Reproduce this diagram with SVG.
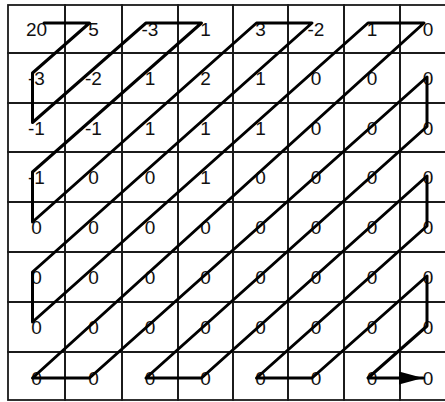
<svg xmlns="http://www.w3.org/2000/svg" width="445" height="402" viewBox="0 0 445 402">
<style>
.c rect{fill:none;stroke:#1a1a1a;stroke-width:1.8}
.c text{font-family:"Liberation Sans",Arial,sans-serif;font-size:19px;fill:#111;text-anchor:middle}
.zz{fill:none;stroke:#000;stroke-width:3;stroke-linejoin:round;stroke-linecap:round}
</style>
<defs>
<marker id="ah" markerUnits="userSpaceOnUse" markerWidth="24" markerHeight="13" viewBox="0 0 24 13" refX="24" refY="6.5" orient="auto">
<path d="M0,0 L24,6.5 L0,13 z" fill="#000"/>
</marker>
</defs>
<rect x="0" y="0" width="445" height="402" fill="#fff"/>
<g id="cells" class="c">
<g id="r0c0"><rect x="8" y="5" width="57" height="48"/><text x="36.5" y="36">20</text></g>
<g id="r0c1"><rect x="65" y="5" width="57" height="48"/><text x="93.5" y="36">5</text></g>
<g id="r0c2"><rect x="122" y="5" width="56" height="48"/><text x="150" y="36">-3</text></g>
<g id="r0c3"><rect x="178" y="5" width="55" height="48"/><text x="205.5" y="36">1</text></g>
<g id="r0c4"><rect x="233" y="5" width="55" height="48"/><text x="260.5" y="36">3</text></g>
<g id="r0c5"><rect x="288" y="5" width="56" height="48"/><text x="316" y="36">-2</text></g>
<g id="r0c6"><rect x="344" y="5" width="56" height="48"/><text x="372" y="36">1</text></g>
<g id="r0c7"><rect x="400" y="5" width="56" height="48"/><text x="428" y="36">0</text></g>

<g id="r1c0"><rect x="8" y="53" width="57" height="50"/><text x="36.5" y="85">-3</text></g>
<g id="r1c1"><rect x="65" y="53" width="57" height="50"/><text x="93.5" y="85">-2</text></g>
<g id="r1c2"><rect x="122" y="53" width="56" height="50"/><text x="150" y="85">1</text></g>
<g id="r1c3"><rect x="178" y="53" width="55" height="50"/><text x="205.5" y="85">2</text></g>
<g id="r1c4"><rect x="233" y="53" width="55" height="50"/><text x="260.5" y="85">1</text></g>
<g id="r1c5"><rect x="288" y="53" width="56" height="50"/><text x="316" y="85">0</text></g>
<g id="r1c6"><rect x="344" y="53" width="56" height="50"/><text x="372" y="85">0</text></g>
<g id="r1c7"><rect x="400" y="53" width="56" height="50"/><text x="428" y="85">0</text></g>

<g id="r2c0"><rect x="8" y="103" width="57" height="49"/><text x="36.5" y="134.5">-1</text></g>
<g id="r2c1"><rect x="65" y="103" width="57" height="49"/><text x="93.5" y="134.5">-1</text></g>
<g id="r2c2"><rect x="122" y="103" width="56" height="49"/><text x="150" y="134.5">1</text></g>
<g id="r2c3"><rect x="178" y="103" width="55" height="49"/><text x="205.5" y="134.5">1</text></g>
<g id="r2c4"><rect x="233" y="103" width="55" height="49"/><text x="260.5" y="134.5">1</text></g>
<g id="r2c5"><rect x="288" y="103" width="56" height="49"/><text x="316" y="134.5">0</text></g>
<g id="r2c6"><rect x="344" y="103" width="56" height="49"/><text x="372" y="134.5">0</text></g>
<g id="r2c7"><rect x="400" y="103" width="56" height="49"/><text x="428" y="134.5">0</text></g>

<g id="r3c0"><rect x="8" y="152" width="57" height="50"/><text x="36.5" y="184">-1</text></g>
<g id="r3c1"><rect x="65" y="152" width="57" height="50"/><text x="93.5" y="184">0</text></g>
<g id="r3c2"><rect x="122" y="152" width="56" height="50"/><text x="150" y="184">0</text></g>
<g id="r3c3"><rect x="178" y="152" width="55" height="50"/><text x="205.5" y="184">1</text></g>
<g id="r3c4"><rect x="233" y="152" width="55" height="50"/><text x="260.5" y="184">0</text></g>
<g id="r3c5"><rect x="288" y="152" width="56" height="50"/><text x="316" y="184">0</text></g>
<g id="r3c6"><rect x="344" y="152" width="56" height="50"/><text x="372" y="184">0</text></g>
<g id="r3c7"><rect x="400" y="152" width="56" height="50"/><text x="428" y="184">0</text></g>

<g id="r4c0"><rect x="8" y="202" width="57" height="50"/><text x="36.5" y="234">0</text></g>
<g id="r4c1"><rect x="65" y="202" width="57" height="50"/><text x="93.5" y="234">0</text></g>
<g id="r4c2"><rect x="122" y="202" width="56" height="50"/><text x="150" y="234">0</text></g>
<g id="r4c3"><rect x="178" y="202" width="55" height="50"/><text x="205.5" y="234">0</text></g>
<g id="r4c4"><rect x="233" y="202" width="55" height="50"/><text x="260.5" y="234">0</text></g>
<g id="r4c5"><rect x="288" y="202" width="56" height="50"/><text x="316" y="234">0</text></g>
<g id="r4c6"><rect x="344" y="202" width="56" height="50"/><text x="372" y="234">0</text></g>
<g id="r4c7"><rect x="400" y="202" width="56" height="50"/><text x="428" y="234">0</text></g>

<g id="r5c0"><rect x="8" y="252" width="57" height="50"/><text x="36.5" y="284">0</text></g>
<g id="r5c1"><rect x="65" y="252" width="57" height="50"/><text x="93.5" y="284">0</text></g>
<g id="r5c2"><rect x="122" y="252" width="56" height="50"/><text x="150" y="284">0</text></g>
<g id="r5c3"><rect x="178" y="252" width="55" height="50"/><text x="205.5" y="284">0</text></g>
<g id="r5c4"><rect x="233" y="252" width="55" height="50"/><text x="260.5" y="284">0</text></g>
<g id="r5c5"><rect x="288" y="252" width="56" height="50"/><text x="316" y="284">0</text></g>
<g id="r5c6"><rect x="344" y="252" width="56" height="50"/><text x="372" y="284">0</text></g>
<g id="r5c7"><rect x="400" y="252" width="56" height="50"/><text x="428" y="284">0</text></g>

<g id="r6c0"><rect x="8" y="302" width="57" height="50"/><text x="36.5" y="334">0</text></g>
<g id="r6c1"><rect x="65" y="302" width="57" height="50"/><text x="93.5" y="334">0</text></g>
<g id="r6c2"><rect x="122" y="302" width="56" height="50"/><text x="150" y="334">0</text></g>
<g id="r6c3"><rect x="178" y="302" width="55" height="50"/><text x="205.5" y="334">0</text></g>
<g id="r6c4"><rect x="233" y="302" width="55" height="50"/><text x="260.5" y="334">0</text></g>
<g id="r6c5"><rect x="288" y="302" width="56" height="50"/><text x="316" y="334">0</text></g>
<g id="r6c6"><rect x="344" y="302" width="56" height="50"/><text x="372" y="334">0</text></g>
<g id="r6c7"><rect x="400" y="302" width="56" height="50"/><text x="428" y="334">0</text></g>

<g id="r7c0"><rect x="8" y="352" width="57" height="48"/><text x="36.5" y="385">0</text></g>
<g id="r7c1"><rect x="65" y="352" width="57" height="48"/><text x="93.5" y="385">0</text></g>
<g id="r7c2"><rect x="122" y="352" width="56" height="48"/><text x="150" y="385">0</text></g>
<g id="r7c3"><rect x="178" y="352" width="55" height="48"/><text x="205.5" y="385">0</text></g>
<g id="r7c4"><rect x="233" y="352" width="55" height="48"/><text x="260.5" y="385">0</text></g>
<g id="r7c5"><rect x="288" y="352" width="56" height="48"/><text x="316" y="385">0</text></g>
<g id="r7c6"><rect x="344" y="352" width="56" height="48"/><text x="372" y="385">0</text></g>
<g id="r7c7"><rect x="400" y="352" width="56" height="48"/><text x="428" y="385">0</text></g>
</g>
<g id="connectors">
<path class="zz" marker-end="url(#ah)" d="M44,23 L89.5,23 L32.5,73 L32.5,122.5 L146,23 L201.5,23 L32.5,172 L32.5,222 L256.5,23 L312,23 L32.5,272 L32.5,322 L368,23 L424,23 L32.5,378 L89.5,378 L427,77 L427,126.5 L146,378 L201.5,378 L427,176 L427,226 L256.5,378 L312,378 L427,276 L427,326 L368,378 L423,378"/>
</g>
</svg>
